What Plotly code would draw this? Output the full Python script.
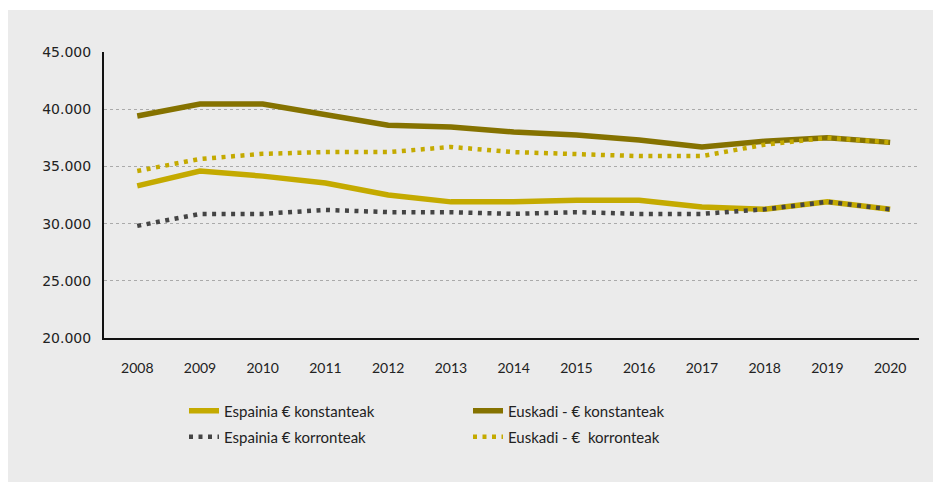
import plotly.graph_objects as go

years = [2008, 2009, 2010, 2011, 2012, 2013, 2014, 2015, 2016, 2017, 2018, 2019, 2020]
espainia_konst = [33300, 34600, 34150, 33550, 32500, 31900, 31900, 32050, 32050, 31450, 31250, 31900, 31250]
espainia_korr = [29800, 30850, 30850, 31200, 31000, 31000, 30850, 31000, 30850, 30850, 31250, 31900, 31250]
euskadi_konst = [39400, 40450, 40450, 39500, 38600, 38450, 38000, 37750, 37300, 36700, 37200, 37500, 37100]
euskadi_korr = [34600, 35650, 36100, 36250, 36250, 36700, 36250, 36100, 35900, 35900, 36900, 37500, 37100]
names = ["Espainia € konstanteak", "Espainia € korronteak", "Euskadi - € konstanteak", "Euskadi - €  korronteak"]
y_ticks = [20000, 25000, 30000, 35000, 40000, 45000]

YEL = "#c4aa00"
OLIVE = "#857200"
GRAY = "#444444"
FONT = "Lato, sans-serif"

fig = go.Figure()
fig.add_trace(go.Scatter(x=years, y=espainia_konst, mode="lines", name=names[0],
                         line=dict(color=YEL, width=5.5), legend="legend"))
fig.add_trace(go.Scatter(x=years, y=euskadi_konst, mode="lines", name=names[2],
                         line=dict(color=OLIVE, width=5.5), legend="legend2"))
fig.add_trace(go.Scatter(x=years, y=euskadi_korr, mode="lines", name=names[3],
                         line=dict(color=YEL, width=4.5, dash="4px,5.5px"), legend="legend4"))
fig.add_trace(go.Scatter(x=years, y=espainia_korr, mode="lines", name=names[1],
                         line=dict(color=GRAY, width=4.5, dash="4px,5.5px"), legend="legend3"))

OFF = 8  # page body margin
W, H = 941 - OFF, 482 - OFF
# page coordinates of plot area
PL, PR, PT, PB = 104, 919, 52, 338
L, R, T, B = PL - OFF, W - (PR - OFF), PT - OFF, H - (PB - OFF)
pw, ph = W - L - R, H - T - B

def px(x):
    return (x - OFF - L) / pw

def py(y):
    return (H - B - (y - OFF)) / ph

leg_common = dict(bgcolor="rgba(0,0,0,0)", font=dict(family=FONT, size=15, color="#222"),
                  yanchor="middle", xanchor="left", orientation="v")

fig.update_layout(
    width=W, height=H,
    margin=dict(l=L, r=R, t=T, b=B),
    paper_bgcolor="white",
    plot_bgcolor="rgba(0,0,0,0)",
    separators=",.",
    showlegend=True,
    legend=dict(x=px(184), y=py(411), **leg_common),
    legend2=dict(x=px(468), y=py(411), **leg_common),
    legend3=dict(x=px(184), y=py(437), **leg_common),
    legend4=dict(x=px(468), y=py(437), **leg_common),
    shapes=[dict(type="rect", xref="paper", yref="paper", layer="below",
                 x0=px(8), x1=px(945), y0=py(490), y1=py(10),
                 fillcolor="#ebebeb", line=dict(width=0))],
)
fig.update_xaxes(range=[2007.47, 2020.46], tickvals=years, ticktext=[str(y) for y in years],
                 showgrid=False, zeroline=False, showline=True, linecolor="#111", linewidth=2,
                 ticks="", ticklabelstandoff=16,
                 tickfont=dict(family=FONT, size=14, color="#222"))
fig.update_yaxes(range=[20000, 45000], tickvals=y_ticks, tickformat=",d",
                 showgrid=True, gridcolor="#aaaaaa", gridwidth=1, griddash="dot",
                 zeroline=False, showline=True, linecolor="#111", linewidth=2,
                 ticks="", ticklabelstandoff=8,
                 tickfont=dict(family="DejaVu Sans, sans-serif", size=14, color="#222"))

fig.write_html("out.html")
